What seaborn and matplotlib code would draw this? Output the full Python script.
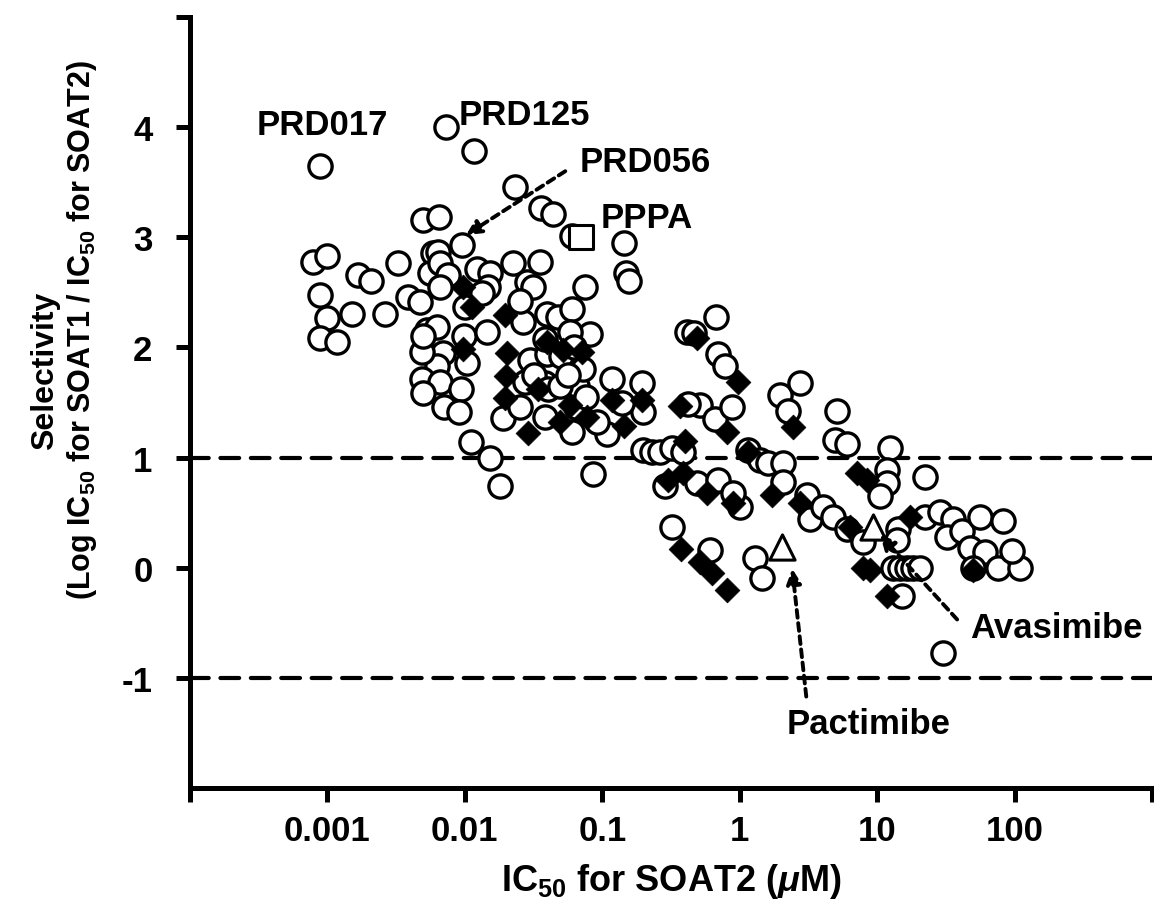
import matplotlib
matplotlib.use('Agg')
import matplotlib.pyplot as plt
from matplotlib.ticker import NullLocator
import pandas as pd
import seaborn as sns

# library compounds (open circles): IC50 for SOAT2 (uM) and selectivity
circle_ic50 = [0.00089, 0.0073, 0.0117, 0.0233, 0.036, 0.044, 0.0605, 0.145, 0.15, 0.157,
               0.005, 0.0065, 0.00078, 0.001, 0.00168, 0.00206, 0.00328, 0.00089, 0.001, 0.00152,
               0.00264, 0.00388, 0.00089, 0.00118, 0.0059, 0.0064, 0.0095, 0.0056, 0.0066, 0.0076,
               0.0123, 0.0153, 0.0225, 0.0148, 0.0285, 0.0101, 0.0053, 0.0063, 0.0098, 0.0146,
               0.0266, 0.0066, 0.0315, 0.075, 0.0398, 0.0478, 0.0605, 0.082, 0.03, 0.0398,
               0.0104, 0.0069, 0.0063, 0.0049, 0.005, 0.0049, 0.0066, 0.0093, 0.0275, 0.0385,
               0.005, 0.007, 0.009, 0.0191, 0.0253, 0.011, 0.0153, 0.0181, 0.0658, 0.0728,
               0.0385, 0.0605, 0.118, 0.109, 0.195, 0.199, 0.086, 0.0047, 0.0134, 0.025,
               0.032, 0.0355, 0.038, 0.04, 0.049, 0.05, 0.056, 0.058, 0.0625, 0.064,
               0.076, 0.092, 0.139,
               0.516, 0.663, 0.881, 1.97, 2.25, 2.75, 5.12, 4.95, 6.05, 12.4,
               11.8, 11.8, 10.5, 22.4, 0.199, 0.231, 0.264, 0.323, 0.388, 0.287,
               0.491, 0.698, 1.14, 1.41, 1.61, 2.07, 2.07, 1.01, 0.897, 3.1,
               3.26, 4.05, 4.79, 6.05, 7.91, 14.2, 14.0, 22.4, 28.7, 35.7,
               32.3, 41.5, 47.5, 56.1, 61, 49.9, 75.9, 110, 13.1, 14.7,
               16.5, 18.3, 20.6, 15.2, 30.2, 0.323, 0.605, 1.3, 1.46, 0.675,
               0.415, 0.467, 0.698, 0.785, 0.422, 82, 95]
circle_sel = [3.65, 4.0, 3.78, 3.46, 3.27, 3.21, 3.01, 2.95, 2.68, 2.6,
              3.16, 3.18, 2.78, 2.83, 2.66, 2.6, 2.77, 2.48, 2.27, 2.3,
              2.3, 2.46, 2.09, 2.05, 2.86, 2.87, 2.93, 2.68, 2.77, 2.66,
              2.71, 2.68, 2.77, 2.55, 2.59, 2.37, 2.16, 2.19, 2.1, 2.14,
              2.23, 2.55, 2.55, 2.55, 2.3, 2.28, 2.35, 2.12, 1.89, 1.94,
              1.86, 1.95, 1.83, 1.96, 2.1, 1.71, 1.69, 1.62, 1.69, 1.68,
              1.59, 1.46, 1.41, 1.36, 1.46, 1.14, 1.0, 0.74, 1.65, 1.8,
              1.37, 1.23, 1.71, 1.21, 1.68, 1.41, 0.85, 2.41, 2.49, 2.42,
              1.75, 2.78, 2.08, 1.62, 1.65, 1.92, 1.75, 2.14, 2.0, 1.46,
              1.55, 1.32, 1.5,
              1.48, 1.35, 1.46, 1.57, 1.42, 1.68, 1.42, 1.16, 1.12, 1.09,
              0.89, 0.77, 0.65, 0.82, 1.07, 1.05, 1.05, 1.09, 1.05, 0.74,
              0.77, 0.8, 1.07, 0.98, 0.95, 0.95, 0.78, 0.55, 0.68, 0.66,
              0.44, 0.55, 0.46, 0.35, 0.23, 0.35, 0.25, 0.46, 0.51, 0.44,
              0.28, 0.33, 0.18, 0.46, 0.14, 0.0, 0.0, 0.0, 0.0, 0.0,
              0.0, 0.0, 0.0, -0.26, -0.77, 0.37, 0.16, 0.09, -0.09, 2.28,
              2.14, 2.13, 1.94, 1.83, 1.49, 0.42, 0.15]

# second compound set (filled diamonds)
diamond_ic50 = [0.00975, 0.0113, 0.00975, 0.0197, 0.0204, 0.02, 0.0197, 0.029, 0.0398, 0.052,
                0.0716, 0.0343, 0.0585, 0.0495, 0.0778, 0.118, 0.145, 0.195, 0.369, 0.491,
                0.975, 0.402, 0.811, 2.45, 0.302, 0.388, 0.581, 1.15, 1.72, 0.897,
                2.75, 6.37, 7.16, 8.46, 17.4, 7.91, 8.9, 11.8, 0.375, 0.516,
                0.63, 0.811, 49.9]
diamond_sel = [2.55, 2.37, 1.99, 2.29, 1.95, 1.74, 1.54, 1.22, 2.05, 1.98,
               1.96, 1.62, 1.48, 1.32, 1.37, 1.52, 1.29, 1.52, 1.47, 2.09,
               1.69, 1.15, 1.23, 1.28, 0.8, 0.86, 0.68, 1.05, 0.66, 0.59,
               0.59, 0.37, 0.86, 0.8, 0.46, 0.0, -0.02, -0.26, 0.17, 0.05,
               -0.05, -0.2, -0.02]

# reference inhibitors
pppa_ic50, pppa_sel = [0.0703], [3.0]
ref_names = ['Pactimibe', 'Avasimibe']
ref_ic50 = [2.04, 9.36]
ref_sel = [0.19, 0.37]

sns.set_style('ticks')
plt.rcParams['font.family'] = ['Liberation Sans', 'DejaVu Sans']
plt.rcParams['font.weight'] = 'bold'
plt.rcParams['mathtext.fontset'] = 'custom'
plt.rcParams['mathtext.rm'] = 'Liberation Sans:bold'
plt.rcParams['mathtext.it'] = 'Liberation Sans:bold:italic'
plt.rcParams['mathtext.bf'] = 'Liberation Sans:bold'
for key in ('text.color', 'axes.labelcolor', 'xtick.color', 'ytick.color', 'axes.edgecolor'):
    plt.rcParams[key] = 'black'

circles = pd.DataFrame({'ic50': circle_ic50, 'sel': circle_sel})
diamonds = pd.DataFrame({'ic50': diamond_ic50, 'sel': diamond_sel})
refs = pd.DataFrame({'name': ref_names, 'ic50': ref_ic50, 'sel': ref_sel})

fig = plt.figure(figsize=(11.54, 9.03), dpi=100)
ax = fig.add_axes([190 / 1154, 114 / 903, 962 / 1154, 771 / 903])

for yy in (1, -1):
    ax.axhline(yy, color='black', lw=3, dashes=(4.5, 2.8), dash_capstyle='round', zorder=1)

sns.scatterplot(data=circles, x='ic50', y='sel', marker='o', s=280, color='white',
                edgecolor='black', linewidth=2.4, legend=False, ax=ax, zorder=2)
sns.scatterplot(data=diamonds, x='ic50', y='sel', marker='D', s=160, color='black',
                edgecolor='black', linewidth=0.5, legend=False, ax=ax, zorder=3)
sns.scatterplot(x=pppa_ic50, y=pppa_sel, marker='s', s=300, color='white',
                edgecolor='black', linewidth=2.2, legend=False, ax=ax, zorder=4)
sns.scatterplot(data=refs, x='ic50', y='sel', marker='^', s=330, color='white',
                edgecolor='black', linewidth=2.2, legend=False, ax=ax, zorder=4)

ax.set_xscale('log')
ax.set_xlim(1e-4, 1e3)
ax.set_ylim(-2, 5)
ax.set_xticks([1e-4, 1e-3, 1e-2, 1e-1, 1, 10, 100, 1000])
ax.set_xticklabels(['', '0.001', '0.01', '0.1', '1', '10', '100', ''])
ax.xaxis.set_minor_locator(NullLocator())
ax.set_yticks([-1, 0, 1, 2, 3, 4, 5])
ax.set_yticklabels(['-1', '0', '1', '2', '3', '4', ''])
ax.tick_params(axis='both', direction='out', length=10, width=3.6, labelsize=25, color='black',
               labelcolor='black')
ax.tick_params(axis='x', pad=9)
ax.tick_params(axis='y', pad=17)
sns.despine(ax=ax)
for side in ('left', 'bottom'):
    ax.spines[side].set_linewidth(3.6)
    ax.spines[side].set_color('black')

ax.set_xlabel(r'IC$_{50}$ for SOAT2 ($\mu$M)', fontsize=26, fontweight='bold', labelpad=10)
ax.set_ylabel('')

# y-axis title, two lines placed on the figure
fig.text(45 / 1154, 1 - 371 / 903, 'Selectivity', rotation=90, ha='center', va='center',
         fontsize=23, fontweight='bold')
fig.text(82 / 1154, 1 - 330 / 903, '(Log IC$_{50}$ for SOAT1 / IC$_{50}$ for SOAT2)',
         rotation=90, ha='center', va='center', fontsize=22, fontweight='bold')

# compound labels
txt = dict(fontsize=25, fontweight='bold', ha='center', va='baseline', zorder=5)
ax.text(0.00092, 3.94, 'PRD017', **txt)
ax.text(0.0271, 4.03, 'PRD125', **txt)
ax.text(0.206, 3.6, 'PRD056', **txt)
ax.text(0.209, 3.09, 'PPPA', **txt)
ax.text(200, -0.63, 'Avasimibe', **txt)
ax.text(8.6, -1.5, 'Pactimibe', **txt)

arrow = dict(arrowstyle='-|>', color='black', lw=2.8, linestyle=(0, (2, 1.4)),
             mutation_scale=22, shrinkA=0, shrinkB=0)
ax.annotate('', xy=(0.0102, 3.02), xytext=(0.0538, 3.6), arrowprops=arrow, zorder=5)
ax.annotate('', xy=(2.41, -0.01), xytext=(3.05, -1.17), arrowprops=arrow, zorder=5)
ax.annotate('', xy=(10.5, 0.3), xytext=(38.2, -0.47), arrowprops=arrow, zorder=5)

fig.savefig('out.png', dpi=100)
